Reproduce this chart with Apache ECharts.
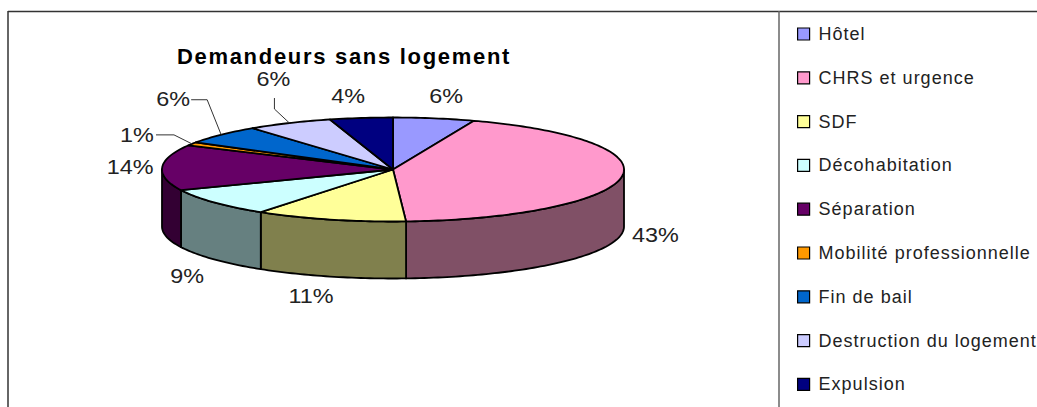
<!DOCTYPE html>
<html><head><meta charset="utf-8">
<style>html,body{margin:0;padding:0;background:#fff}#c{width:1037px;height:407px}
#c text{letter-spacing:1px}
#c text[style*="bold"]{letter-spacing:1.7px}
#c text[style*="19.5px"]{letter-spacing:0}
</style>
<script src="https://cdn.jsdelivr.net/npm/echarts@6/dist/echarts.min.js"></script>
</head><body><div id="c"></div>
<script>
const categories = ['Hôtel','CHRS et urgence','SDF','Décohabitation','Séparation','Mobilité professionnelle','Fin de bail','Destruction du logement','Expulsion'];
const values = [5.7,43.4,10.6,8.8,14.2,1.0,5.9,6.0,4.4];
const colors = ['#9999FF','#FF99CC','#FFFF99','#CCFFFF','#660066','#FF9900','#0066CC','#CCCCFF','#000080'];
const sideColors = ['#4D4D80','#805066','#80804D','#668080','#330033','#804D00','#003366','#666680','#000040'];
const labelOffsets = [[12,-22],[34,58],[-19,77],[-27,74],[-32,0],[-55,-8],[-48,-35],[-16,-43],[-13,-21]];
const leaders = {5:[[-36,-9],[-18,-9]],6:[[-30,-35],[-14,-35]],7:[[-15,-25],[-15,-14]]};

const FONT = '"Liberation Sans", Arial, sans-serif';
const CX = 393, CY = 169.5, RX = 231, RY = 52, DEPTH = 57;
const total = values.reduce((a,b)=>a+b,0);
const pt = (a,dy=0)=>[CX+RX*Math.sin(a), CY-RY*Math.cos(a)+dy];
function arc(a0,a1,dy){const n=Math.max(2,Math.ceil((a1-a0)/0.02));const p=[];for(let i=0;i<=n;i++)p.push(pt(a0+(a1-a0)*i/n,dy));return p;}
let acc=0;
const spans = values.map(v=>{const s=acc/total*2*Math.PI;acc+=v;return [s,acc/total*2*Math.PI];});

const series = categories.map((name,i)=>({
  type:'custom', name, coordinateSystem:'none', silent:true, animation:false,
  itemStyle:{color:colors[i]},
  data:[values[i]],
  renderItem(){
    const [a0,a1]=spans[i]; const mid=(a0+a1)/2; const children=[];
    const s0=Math.max(a0,Math.PI/2), s1=Math.min(a1,Math.PI*1.5);
    if(s1>s0){
      children.push({type:'polygon',shape:{points:arc(s0,s1,0).concat(arc(s0,s1,DEPTH).reverse())},
        style:{fill:sideColors[i],stroke:'#000',lineWidth:1.8,lineJoin:'round'}});
    }
    children.push({type:'polygon',shape:{points:[[CX,CY]].concat(arc(a0,a1,0))},
      style:{fill:colors[i],stroke:'#000',lineWidth:1.8,lineJoin:'round'}});
    const m=pt(mid), o=labelOffsets[i];
    children.push({type:'text',x:m[0]+o[0],y:m[1]+o[1],scaleX:1.2,style:{text:Math.round(values[i])+'%',x:0,y:0,
      align:'center',verticalAlign:'middle',fill:'#222',font:'19.5px '+FONT}});
    if(leaders[i]){
      const pts=leaders[i].map(d=>[m[0]+d[0],m[1]+d[1]]).concat([m]);
      children.push({type:'polyline',shape:{points:pts},style:{fill:'none',stroke:'#333',lineWidth:1}});
    }
    return {type:'group',children};
  }
}));

const chart = echarts.init(document.getElementById('c'),null,{renderer:'svg'});
chart.setOption({
  animation:false,
  backgroundColor:'#fff',
  title:{text:'Demandeurs sans logement',left:344,top:45,textAlign:'center',padding:0,
    textStyle:{fontFamily:FONT,fontWeight:'bold',fontSize:22,color:'#000'}},
  legend:{orient:'vertical',left:797,top:25,padding:0,itemWidth:12,itemHeight:12,itemGap:25.8,
    icon:'rect',data:categories,selectedMode:false,
    itemStyle:{borderColor:'#000',borderWidth:1.2},
    textStyle:{fontFamily:FONT,fontSize:18,color:'#222',padding:[0,0,0,4]}},
  graphic:[
    {type:'line',shape:{x1:8,y1:11.5,x2:1037,y2:11.5},style:{stroke:'#333',lineWidth:1.5}},
    {type:'line',shape:{x1:8,y1:11,x2:8,y2:407},style:{stroke:'#333',lineWidth:1.5}},
    {type:'line',shape:{x1:779,y1:11,x2:779,y2:407},style:{stroke:'#666',lineWidth:1.5}}
  ],
  series
});
</script></body></html>
